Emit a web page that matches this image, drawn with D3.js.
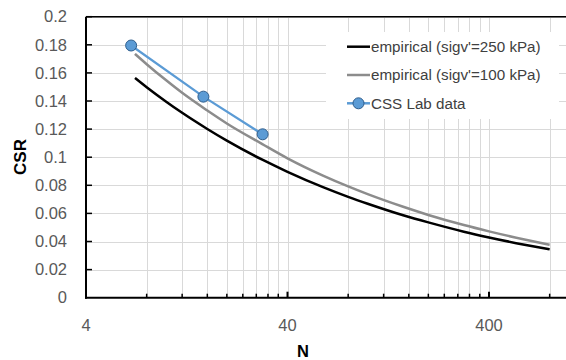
<!DOCTYPE html>
<html><head><meta charset="utf-8">
<script src="https://cdn.jsdelivr.net/npm/d3@7"></script>
<style>html,body{margin:0;padding:0;background:#fff;}svg{display:block;font-family:"Liberation Sans",Arial,sans-serif;}</style>
</head><body>
<svg id="c" width="566" height="360"></svg>
<script>
// Data
const nEmp = [7, 8, 10, 12, 16, 20, 30, 40, 60, 80, 100, 150, 200, 300, 400, 600, 800];
const csr250 = [0.1564, 0.1498, 0.1395, 0.1316, 0.1201, 0.1118, 0.0982, 0.0896, 0.0787, 0.0718, 0.0669, 0.0587, 0.0536, 0.0470, 0.0429, 0.0377, 0.0344];
const csr100 = [0.1735, 0.1662, 0.1547, 0.1458, 0.1332, 0.1240, 0.1093, 0.0992, 0.0869, 0.0792, 0.0737, 0.0647, 0.0589, 0.0517, 0.0472, 0.0414, 0.0377];
const nLab = [6.7, 15.3, 30.1];
const csrLab = [0.1795, 0.1431, 0.1163];
const yTicks = [0, 0.02, 0.04, 0.06, 0.08, 0.1, 0.12, 0.14, 0.16, 0.18, 0.2];
const xMajor = [4, 40, 400];
const seriesNames = ["empirical (sigv'=250 kPa)", "empirical (sigv'=100 kPa)", "CSS Lab data"];

const svg = d3.select("#c");
const L = 86, T = 16.7, B = 297.7, decade = 201.5;
const x = d3.scaleLog().domain([4, 4000]).range([L, L + 3 * decade]);
const y = d3.scaleLinear().domain([0, 0.2]).range([B, T]);

svg.append("rect").attr("width", 566).attr("height", 360).attr("fill", "#fff");

// minor positions
const xMinor = [];
[4, 40, 400].forEach(d => { for (let k = 2; k <= 9; k++) xMinor.push(d * k); });

const grid = svg.append("g").attr("stroke", "#d9d9d9").attr("stroke-width", 1);
grid.selectAll(".vx").data(xMinor.concat([40, 400])).join("line")
  .attr("x1", d => Math.round(x(d)) + 0.5).attr("x2", d => Math.round(x(d)) + 0.5)
  .attr("y1", T).attr("y2", B);
grid.selectAll(".hy").data(yTicks.slice(1)).join("line")
  .attr("x1", L).attr("x2", 566)
  .attr("y1", d => Math.round(y(d)) + 0.5).attr("y2", d => Math.round(y(d)) + 0.5);

// frame (top + left + bottom)
svg.append("line").attr("x1", L).attr("x2", 566).attr("y1", T).attr("y2", T).attr("stroke", "#000").attr("stroke-width", 1.5);
svg.append("line").attr("x1", L).attr("x2", L).attr("y1", T).attr("y2", B + 1).attr("stroke", "#000").attr("stroke-width", 2);
svg.append("line").attr("x1", L - 1).attr("x2", 566).attr("y1", B).attr("y2", B).attr("stroke", "#000").attr("stroke-width", 2);

// y ticks (inside) & labels
svg.selectAll(".yt").data(yTicks.slice(1)).join("line")
  .attr("x1", L).attr("x2", L + 6).attr("y1", d => y(d)).attr("y2", d => y(d))
  .attr("stroke", "#000").attr("stroke-width", 1.5);
svg.selectAll(".yl").data(yTicks).join("text")
  .attr("x", 67).attr("y", d => y(d)).attr("dy", "0.35em")
  .attr("text-anchor", "end").attr("font-size", 16.5).attr("fill", "#595959")
  .text(d => d3.format("")(+d.toFixed(2)));

// x ticks
svg.selectAll(".xm").data(xMinor).join("line")
  .attr("x1", d => x(d)).attr("x2", d => x(d)).attr("y1", B).attr("y2", B - 4)
  .attr("stroke", "#000").attr("stroke-width", 1.5);
svg.selectAll(".xM").data(xMajor).join("line")
  .attr("x1", d => x(d)).attr("x2", d => x(d)).attr("y1", B).attr("y2", B - 6)
  .attr("stroke", "#000").attr("stroke-width", 2);
svg.selectAll(".xl").data(xMajor).join("text")
  .attr("x", d => x(d)).attr("y", 331).attr("text-anchor", "middle")
  .attr("font-size", 16.5).attr("fill", "#595959").text(d => d);

// axis titles
svg.append("text").attr("x", 303).attr("y", 356.5).attr("text-anchor", "middle")
  .attr("font-size", 16.5).attr("font-weight", "bold").attr("fill", "#000").text("N");
svg.append("text").attr("transform", "translate(26,157) rotate(-90)").attr("text-anchor", "middle")
  .attr("font-size", 17).attr("font-weight", "bold").attr("fill", "#000").text("CSR");

// lines
const line = d3.line().x(d => x(d[0])).y(d => y(d[1])).curve(d3.curveMonotoneX);
svg.append("path").datum(d3.zip(nEmp, csr100)).attr("d", line)
  .attr("fill", "none").attr("stroke", "#8c8c8c").attr("stroke-width", 2.5);
svg.append("path").datum(d3.zip(nEmp, csr250)).attr("d", line)
  .attr("fill", "none").attr("stroke", "#000").attr("stroke-width", 2.5);
const labPts = d3.zip(nLab, csrLab);
svg.append("path").datum(labPts).attr("d", d3.line().x(d => x(d[0])).y(d => y(d[1])))
  .attr("fill", "none").attr("stroke", "#5b9bd5").attr("stroke-width", 2.25);
svg.selectAll(".pt").data(labPts).join("circle")
  .attr("cx", d => x(d[0])).attr("cy", d => y(d[1])).attr("r", 5.5)
  .attr("fill", "#5b9bd5").attr("stroke", "#2e5d8c").attr("stroke-width", 1);

// legend
const lg = svg.append("g");
lg.append("rect").attr("x", 326).attr("y", 32).attr("width", 233).attr("height", 87).attr("fill", "#fff");
const rows = [46.7, 75, 103.3];
const colors = ["#000", "#8c8c8c", "#5b9bd5"];
seriesNames.forEach((name, i) => {
  lg.append("line").attr("x1", 347).attr("x2", 370).attr("y1", rows[i]).attr("y2", rows[i])
    .attr("stroke", colors[i]).attr("stroke-width", 2.5);
  if (i === 2) lg.append("circle").attr("cx", 358.5).attr("cy", rows[i]).attr("r", 5.5)
    .attr("fill", "#5b9bd5").attr("stroke", "#2e5d8c").attr("stroke-width", 1);
  lg.append("text").attr("x", 371).attr("y", rows[i]).attr("dy", "0.35em")
    .attr("font-size", 15.2).attr("fill", "#404040").text(name);
});
</script>
</body></html>
